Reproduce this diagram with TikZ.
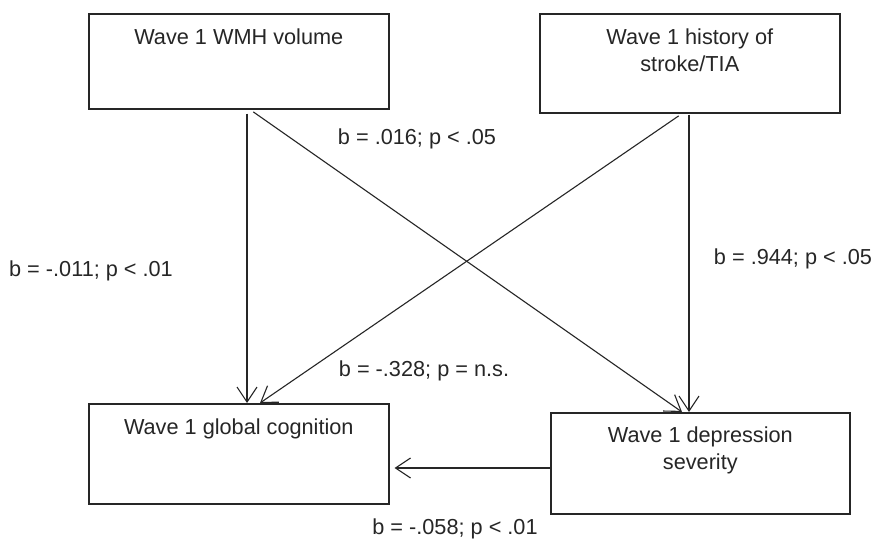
\documentclass[tikz,border=0pt]{standalone}
\usepackage{fontspec}
\setmainfont{Liberation Sans}
\usetikzlibrary{arrows.meta}
\begin{document}
\begin{tikzpicture}[x=1pt,y=-1pt,
  box/.style={draw=black!85, line width=1.6pt, rectangle, inner sep=0pt, anchor=north west},
  txt/.style={inner sep=0pt, text=black!85, align=center, font=\fontsize{21.7pt}{27pt}\selectfont},
  lbl/.style={inner sep=0pt, text=black!85, anchor=base, font=\fontsize{21.7pt}{27pt}\selectfont},
  arr/.style={draw=black!85, line width=1.1pt, -{Straight Barb[length=15pt,width=20pt,line width=1.1pt]}}
]
\useasboundingbox (0,0) rectangle (878,540);
\fill[white] (0,0) rectangle (878,540);

% boxes
\node[box, minimum width=300pt, minimum height=95pt] (b1) at (88,13) {};
\node[box, minimum width=300pt, minimum height=99pt] (b2) at (539,13) {};
\node[box, minimum width=300pt, minimum height=100pt] (b3) at (88,403) {};
\node[box, minimum width=299pt, minimum height=101pt] (b4) at (550,412) {};

% box texts
\node[txt, anchor=north] (t1) at ([yshift=-15.2pt]b1.north) {Wave 1 WMH volume};
\node[txt, anchor=north] (t2) at ([yshift=-15.2pt]b2.north) {Wave 1 history of\\stroke/TIA};
\node[txt, anchor=north] (t3) at ([yshift=-15.2pt]b3.north) {Wave 1 global cognition};
\node[txt, anchor=north] (t4) at ([yshift=-14.2pt]b4.north) {Wave 1 depression\\severity};

% connectors
\draw[arr, shorten <=4pt] ([xshift=159pt]b1.south west) -- ([xshift=159pt]b3.north west);
\draw[arr, shorten <=4pt] ([xshift=162pt]b1.south west) -- ([xshift=132pt]b4.north west);
\draw[arr, shorten <=4pt] ([xshift=143pt]b2.south west) -- ([xshift=172pt]b3.north west);
\draw[arr, shorten <=1pt] ([xshift=150pt]b2.south west) -- ([xshift=139pt]b4.north west);
\draw[arr, shorten >=5pt] ([yshift=-56pt]b4.north west) -- ([yshift=-65pt]b3.north east);

% labels
\node[lbl] (l1) at (417,145) {b = .016; p < .05};
\node[lbl] (l2) at (424,376) {b = -.328; p = n.s.};
\node[lbl] (l3) at (91,276) {b = -.011; p < .01};
\node[lbl] (l4) at (793,265) {b = .944; p < .05};
\node[lbl] (l5) at (455,534) {b = -.058; p < .01};
\end{tikzpicture}
\end{document}
